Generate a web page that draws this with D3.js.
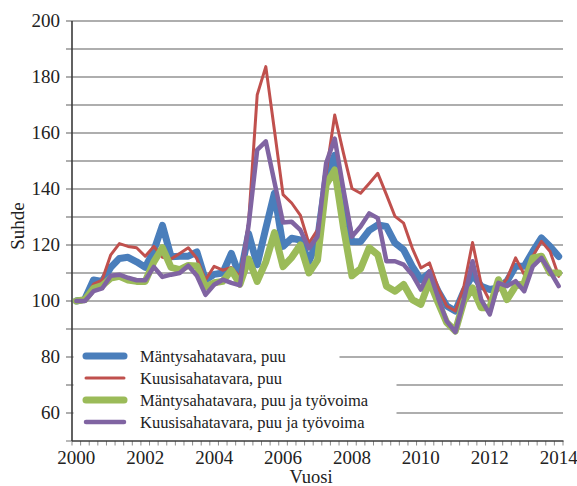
<!DOCTYPE html>
<html>
<head>
<meta charset="utf-8">
<script src="https://cdn.jsdelivr.net/npm/d3@7/dist/d3.min.js"></script>
<style>
  html, body { margin: 0; padding: 0; background: #fff; }
  svg { display: block; }
  svg text { font-family: "Liberation Serif", "Times New Roman", Times, "DejaVu Serif", serif; }
</style>
</head>
<body>
<svg id="chart" width="577" height="486"></svg>
<script>
// Quarterly categories 2000Q1 .. 2014Q1
const quarters = d3.range(57).map(i => (2000 + Math.floor(i / 4)) + "Q" + (i % 4 + 1));
const yearLabels = ["2000", "2002", "2004", "2006", "2008", "2010", "2012", "2014"];
const yTickLabels = [60, 80, 100, 120, 140, 160, 180, 200];
const seriesNames = [
  "Mäntysahatavara, puu",
  "Kuusisahatavara, puu",
  "Mäntysahatavara, puu ja työvoima",
  "Kuusisahatavara, puu ja työvoima"
];

const mantyPuu = [100, 100.7, 107.5, 107, 112, 115.2, 115.6, 114, 112, 118,
  127, 115.8, 116, 116, 117.5, 107.5, 109.5, 110, 117, 108.6,
  124, 113, 126, 138.5, 119.5, 122.4, 121.8, 114, 121.8, 144.4,
  152, 135, 121.2, 121.2, 125.2, 127.2, 126.6, 120.7, 118.3, 112.4,
  107.6, 110, 103.5, 98.2, 96.4, 103.5, 109.4, 105.3, 104.1, 104.7,
  107.1, 112.4, 112.4, 117.7, 122.5, 119.5, 115.9];
const kuusiPuu = [100, 101, 106, 107.5, 116.5, 120.5, 119.5, 119, 116, 119.5,
  115.6, 115, 117, 119, 115.2, 107.5, 112.4, 111, 112, 108.6,
  128, 173.6, 183.7, 161, 138, 135, 130.7, 120.6, 125.4, 145.6,
  166.4, 153, 140.2, 138.5, 142, 145.6, 138, 130.2, 127.8, 118.9,
  111.8, 113.6, 104.7, 98.2, 96.4, 105.3, 120.9, 106, 100, 104,
  108, 115.4, 109.4, 116, 121.3, 117.7, 108.8];
const mantyPuuTyo = [100, 100.5, 104.5, 105.5, 108.2, 108.8, 107.5, 107, 107, 114,
  119, 112, 111.2, 112.7, 112.5, 105, 106.5, 107, 111, 106,
  115, 107, 114, 124.4, 112.3, 115.5, 120, 110, 114.6, 141.5,
  146.8, 126.5, 109, 111.5, 119, 116.5, 105.3, 103.5, 105.9, 100.5,
  98.8, 107.1, 99.4, 92.3, 89.3, 100, 104.7, 97.6, 97.6, 107.6,
  100.5, 105.3, 106.5, 115.4, 116, 110, 110];
const kuusiPuuTyo = [100, 100, 103.5, 104.5, 109, 109.4, 108.3, 107.4, 107.4, 112.2,
  108.6, 109.4, 110, 112.6, 109, 102.2, 105.8, 107.6, 106.5, 105.6,
  127, 154, 157, 142.5, 128, 128.3, 125.4, 118.8, 123, 149.2,
  158, 140, 123, 126.6, 131.3, 129.6, 114.2, 114.2, 113, 109.4,
  104.1, 110.6, 101.1, 92.8, 88.9, 100.5, 114.2, 100.5, 95.2, 106.5,
  105.3, 107.1, 103.5, 112.4, 115.4, 110.6, 105.3];

const seriesValues = [mantyPuu, kuusiPuu, mantyPuuTyo, kuusiPuuTyo];
const colors = ["#4a7ebb", "#c0504d", "#9bbb59", "#8064a2"];
const widths = [7, 3, 7, 4.5];

(function () {
const FONT = "Liberation Serif, Times New Roman, Times, DejaVu Serif, serif";
const svg = d3.select("#chart");
const pL = 72, pR = 563, pT = 21, pB = 441;

const x = d3.scaleBand().domain(d3.range(quarters.length)).range([pL, pR]).padding(0);
const y = d3.scaleLinear().domain([50, 200]).range([pB, pT]);

// Gridlines (every 10) with tick stubs on the left
const gridVals = d3.range(60, 201, 10);
svg.append("g").selectAll("line").data(gridVals).join("line")
  .attr("x1", pL - 6).attr("x2", pR)
  .attr("y1", d => y(d)).attr("y2", d => y(d))
  .attr("stroke", "#939393").attr("stroke-width", 1.3);
svg.append("line").attr("x1", pL - 6).attr("x2", pL)
  .attr("y1", y(50)).attr("y2", y(50)).attr("stroke", "#939393").attr("stroke-width", 1.3);

// Y labels
svg.append("g").selectAll("text").data(yTickLabels).join("text")
  .attr("x", 60).attr("y", d => y(d)).attr("dy", "0.34em")
  .attr("text-anchor", "end").attr("font-size", 19).attr("fill", "#222")
  .attr("font-family", FONT)
  .text(d => d);

// Minor ticks below x axis at category boundaries
const bounds = d3.range(quarters.length).map(i => x(i)).concat([pR]);
svg.append("g").selectAll("line").data(bounds).join("line")
  .attr("x1", d => d).attr("x2", d => d)
  .attr("y1", pB).attr("y2", pB + 4.5)
  .attr("stroke", "#8a8a8a").attr("stroke-width", 1);

// X axis labels via axis
const labelIdx = yearLabels.map((_, k) => k * 8);
const xAxis = d3.axisBottom(x).tickValues(labelIdx)
  .tickFormat(i => yearLabels[i / 8]).tickSize(0).tickPadding(10);
const gx = svg.append("g").attr("transform", `translate(0,${pB})`).call(xAxis)
  .attr("font-family", FONT);
gx.select(".domain").remove();
gx.selectAll("text").attr("font-size", 19).attr("fill", "#222")
  .attr("font-family", FONT);

// Axis lines
svg.append("line").attr("x1", pL).attr("x2", pR + 0.5).attr("y1", pB).attr("y2", pB)
  .attr("stroke", "#3a3a3a").attr("stroke-width", 1.6);
svg.append("line").attr("x1", pL).attr("x2", pL).attr("y1", pT).attr("y2", pB)
  .attr("stroke", "#3a3a3a").attr("stroke-width", 1.6);

// Lines
const line = d3.line().x((d, i) => x(i) + x.bandwidth() / 2).y(d => y(d));
seriesValues.forEach((vals, k) => {
  svg.append("path").datum(vals)
    .attr("d", line).attr("fill", "none")
    .attr("stroke", colors[k]).attr("stroke-width", widths[k])
    .attr("stroke-linejoin", "round").attr("stroke-linecap", "round");
});

// Legend
const rowY = [356, 378, 400, 422];
svg.append("rect").attr("x", pL + 1.5).attr("y", 344).attr("width", 338 - pL).attr("height", 23).attr("fill", "#fff");
svg.append("rect").attr("x", pL + 1.5).attr("y", 366).attr("width", 395 - pL).attr("height", 68).attr("fill", "#fff");
const lg = svg.append("g");
seriesNames.forEach((name, k) => {
  lg.append("line").attr("x1", 86).attr("x2", 124)
    .attr("y1", rowY[k]).attr("y2", rowY[k])
    .attr("stroke", colors[k]).attr("stroke-width", widths[k]).attr("stroke-linecap", "round");
  lg.append("text").attr("x", 140).attr("y", rowY[k]).attr("dy", "0.34em")
    .attr("font-size", 16.5).attr("fill", "#222").attr("font-family", FONT).text(name);
});

// Axis titles
svg.append("text").attr("x", 311).attr("y", 483).attr("text-anchor", "middle")
  .attr("font-size", 18.5).attr("fill", "#222").attr("font-family", FONT).text("Vuosi");
svg.append("text").attr("transform", "translate(24,226) rotate(-90)")
  .attr("text-anchor", "middle").attr("font-size", 19).attr("fill", "#222")
  .attr("font-family", FONT).text("Suhde");
})();
</script>
</body>
</html>
